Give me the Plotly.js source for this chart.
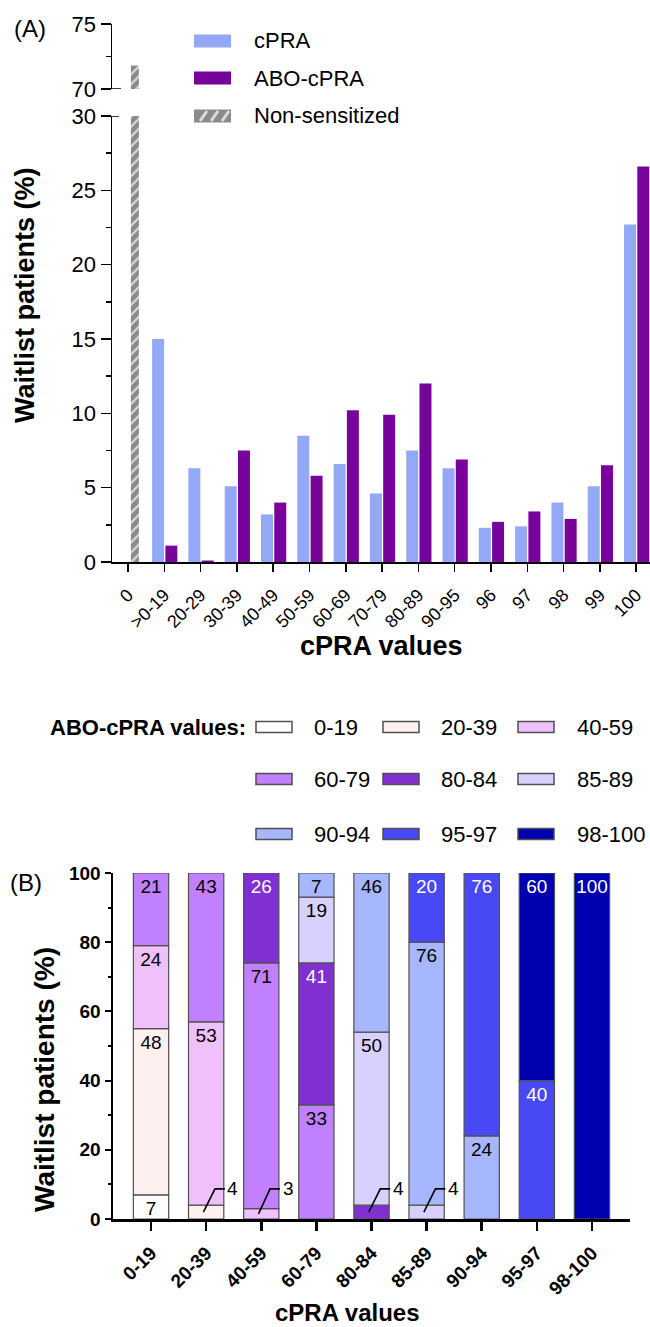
<!DOCTYPE html>
<html><head><meta charset="utf-8">
<script src="https://cdn.plot.ly/plotly-3.0.1.min.js"></script>
<style>html,body{margin:0;padding:0;background:#fff}#chart{width:650px;height:1327px}</style>
</head><body><div id="chart"></div>
<script>
// ---------- Panel A data ----------
const aCategories = ['0','>0-19','20-29','30-39','40-49','50-59','60-69','70-79','80-89','90-95','96','97','98','99','100'];
const cpraValues    = [null,15.0,6.3,5.1,3.2,8.5,6.6,4.6,7.5,6.3,2.3,2.4,4.0,5.1,22.7];
const aboCpraValues = [null,1.1,0.1,7.5,4.0,5.8,10.2,9.9,12.0,6.9,2.7,3.4,2.9,6.5,26.6];
const nonSensCategories = ['0'];
const nonSensValues = [71.8];
const aLowerTicks = [0,5,10,15,20,25,30];
const aUpperTicks = [70,75];
const aLegendNames = ['cPRA','ABO-cPRA','Non-sensitized'];

// ---------- Panel B data ----------
const bCategories = ['0-19','20-39','40-59','60-79','80-84','85-89','90-94','95-97','98-100'];
const aboRanges = ['0-19','20-39','40-59','60-79','80-84','85-89','90-94','95-97','98-100'];
const abo_0_19   = [7,null,null,null,null,null,null,null,null];
const abo_20_39  = [48,4,null,null,null,null,null,null,null];
const abo_40_59  = [24,53,3,null,null,null,null,null,null];
const abo_60_79  = [21,43,71,33,null,null,null,null,null];
const abo_80_84  = [null,null,26,41,4,null,null,null,null];
const abo_85_89  = [null,null,null,19,50,4,null,null,null];
const abo_90_94  = [null,null,null,7,46,76,24,null,null];
const abo_95_97  = [null,null,null,null,null,20,76,40,null];
const abo_98_100 = [null,null,null,null,null,null,null,60,100];
const bYTicks = [0,20,40,60,80,100];

// ---------- styles ----------
const W = 650, H = 1327;
const fx = x => x / W, fy = y => 1 - y / H;
const FONT = 'Liberation Sans, Arial, Helvetica, sans-serif';
const cpraColor = '#93A8F7', aboColor = '#78039A', grayColor = '#8A8A8A';
const bColors = ['#FFFFFF','#FDF0EF','#F0C0FC','#C080FF','#8030D0','#D8D0FF','#A6B6FF','#4848F5','#0000B0'];
const bTextColors = ['#000','#000','#000','#000','#FFF','#000','#000','#FFF','#FFF'];
const bSeries = [abo_0_19,abo_20_39,abo_40_59,abo_60_79,abo_80_84,abo_85_89,abo_90_94,abo_95_97,abo_98_100];

const traces = [];
// Panel A bars
traces.push({type:'bar', x:aCategories, y:cpraValues, name:aLegendNames[0], xaxis:'x', yaxis:'y',
  offset:-0.335, width:0.33, marker:{color:cpraColor, line:{width:0}}, showlegend:false, hoverinfo:'skip'});
traces.push({type:'bar', x:aCategories, y:aboCpraValues, name:aLegendNames[1], xaxis:'x', yaxis:'y',
  offset:0.03, width:0.33, marker:{color:aboColor, line:{width:0}}, showlegend:false, hoverinfo:'skip'});
['y','y2'].forEach(ya => traces.push({type:'bar', x:nonSensCategories, y:nonSensValues, name:aLegendNames[2],
  xaxis:'x', yaxis:ya, offset:0.08, width:0.22,
  marker:{color:grayColor, line:{width:0}, pattern:{shape:'/', fgcolor:'#DDDDDD', bgcolor:grayColor, size:7, solidity:0.3}},
  showlegend:false, hoverinfo:'skip'}));

// Panel B stacked bars (manual stacking via base)
const cum = bCategories.map(() => 0);
const leaderShapes = [], leaderAnns = [];
bSeries.forEach((vals, k) => {
  const base = cum.slice();
  traces.push({type:'bar', x:bCategories, y:vals, base:base, name:aboRanges[k], xaxis:'x3', yaxis:'y3',
    width:0.64, marker:{color:bColors[k], line:{color:'#505050', width:1.2}},
    text: vals.map(v => (v !== null && v >= 5) ? String(v) : ''),
    textposition:'inside', insidetextanchor:'end', textangle:0, constraintext:'none',
    textfont:{family:FONT, size:19, color:bTextColors[k]},
    showlegend:false, hoverinfo:'skip'});
  vals.forEach((v, i) => {
    if (v !== null && v < 5) {
      const mid = base[i] + v / 2;
      leaderShapes.push({type:'path', xref:'x3', yref:'y3',
        path:`M ${i-0.05},${mid} L ${i+0.16},8.7 L ${i+0.34},8.7`,
        line:{color:'#000', width:1.6}});
      leaderAnns.push({xref:'x3', yref:'y3', x:i+0.35, y:8.7, text:String(v), showarrow:false,
        xanchor:'left', yanchor:'middle', font:{family:FONT, size:19, color:'#000'}});
    }
    if (v !== null) cum[i] += v;
  });
});

// ---------- custom legends ----------
const shapes = [...leaderShapes];
const annotations = [...leaderAnns];
const aLegRows = [41, 78, 116];
const aLegColors = [cpraColor, aboColor, grayColor];
aLegRows.forEach((yc, k) => {
  shapes.push({type:'rect', xref:'paper', yref:'paper', x0:fx(194), x1:fx(231), y0:fy(yc+6.5), y1:fy(yc-6.5),
    fillcolor:aLegColors[k], line:{width:0}});
  annotations.push({xref:'paper', yref:'paper', x:fx(252), y:fy(yc), text:aLegendNames[k], showarrow:false,
    xanchor:'left', yanchor:'middle', font:{family:FONT, size:22, color:'#000'}});
});
[200, 211, 222].forEach(x0 => shapes.push({type:'line', xref:'paper', yref:'paper',
  x0:fx(x0), y0:fy(121), x1:fx(x0+7), y1:fy(111), line:{color:'#DDDDDD', width:3}}));

const bLegRows = [727, 779, 834];
const bSwX = [256, 383, 518], bTxX = [312, 439, 575];
aboRanges.forEach((name, k) => {
  const r = Math.floor(k / 3), c = k % 3, yc = bLegRows[r];
  shapes.push({type:'rect', xref:'paper', yref:'paper', x0:fx(bSwX[c]), x1:fx(bSwX[c]+36), y0:fy(yc+5.5), y1:fy(yc-5.5),
    fillcolor:bColors[k], line:{color:'#505050', width:1.5}});
  annotations.push({xref:'paper', yref:'paper', x:fx(bTxX[c]), y:fy(yc), text:name, showarrow:false,
    xanchor:'left', yanchor:'middle', font:{family:FONT, size:22, color:'#000'}});
});
annotations.push({xref:'paper', yref:'paper', x:fx(248), y:fy(727), text:'ABO-cPRA values:', showarrow:false,
  xanchor:'right', yanchor:'middle', font:{family:FONT, size:22, color:'#000', weight:'bold'}});

// panel labels and axis titles
annotations.push({xref:'paper', yref:'paper', x:fx(12), y:fy(29), text:'(A)', showarrow:false,
  xanchor:'left', yanchor:'middle', font:{family:FONT, size:24, color:'#000'}});
annotations.push({xref:'paper', yref:'paper', x:fx(8), y:fy(882), text:'(B)', showarrow:false,
  xanchor:'left', yanchor:'middle', font:{family:FONT, size:24, color:'#000'}});
annotations.push({xref:'paper', yref:'paper', x:fx(25), y:fy(295), text:'Waitlist patients (%)', textangle:-90,
  showarrow:false, xanchor:'center', yanchor:'middle', font:{family:FONT, size:27, color:'#000', weight:'bold'}});
annotations.push({xref:'paper', yref:'paper', x:fx(381), y:fy(646), text:'cPRA values', showarrow:false,
  xanchor:'center', yanchor:'middle', font:{family:FONT, size:27, color:'#000', weight:'bold'}});
annotations.push({xref:'paper', yref:'paper', x:fx(44), y:fy(1080), text:'Waitlist patients (%)', textangle:-90,
  showarrow:false, xanchor:'center', yanchor:'middle', font:{family:FONT, size:28, color:'#000', weight:'bold'}});
annotations.push({xref:'paper', yref:'paper', x:fx(347), y:fy(1312), text:'cPRA values', showarrow:false,
  xanchor:'center', yanchor:'middle', font:{family:FONT, size:24, color:'#000', weight:'bold'}});

// axis break marks
shapes.push({type:'line', xref:'paper', yref:'y2', x0:fx(112), x1:fx(121), y0:70, y1:70, line:{color:'#000', width:1.5}});
shapes.push({type:'line', xref:'paper', yref:'y', x0:fx(112), x1:fx(119), y0:30, y1:30, line:{color:'#000', width:1.5}});

const axBase = {showgrid:false, zeroline:false, showline:true, linecolor:'#000', tickcolor:'#000', fixedrange:true};
const layout = {
  width:W, height:H, margin:{l:0, r:0, t:0, b:0}, paper_bgcolor:'#fff', plot_bgcolor:'rgba(0,0,0,0)',
  barmode:'overlay', showlegend:false, font:{family:FONT, color:'#000'},
  uniformtext:{mode:'show', minsize:19},
  xaxis: Object.assign({}, axBase, {domain:[fx(112), 1], range:[-0.44, 14.38], type:'category', anchor:'y',
    linewidth:1.5, ticks:'outside', ticklen:8, tickwidth:1.5, tickangle:-45, tickfont:{size:18},
    ticklabelstandoff:6}),
  yaxis: Object.assign({}, axBase, {domain:[fy(562), fy(116)], range:[0,30], anchor:'x', tickmode:'array',
    tickvals:aLowerTicks, ticks:'outside', ticklen:10, tickwidth:1.5, linewidth:1.5, tickfont:{size:22},
    minor:{dtick:2.5, tick0:0, ticks:'outside', ticklen:5, tickwidth:1.5, tickcolor:'#000', showgrid:false}}),
  yaxis2: Object.assign({}, axBase, {domain:[fy(89), fy(24)], range:[70,75], anchor:'x', tickmode:'array',
    tickvals:aUpperTicks, ticks:'outside', ticklen:10, tickwidth:1.5, linewidth:1.5, tickfont:{size:22},
    minor:{dtick:2.5, tick0:70, ticks:'outside', ticklen:5, tickwidth:1.5, tickcolor:'#000', showgrid:false}}),
  xaxis3: Object.assign({}, axBase, {domain:[fx(113), fx(630)], range:[-0.69, 8.69], type:'category', anchor:'y3',
    linewidth:2.5, ticks:'outside', ticklen:9, tickwidth:2.5, tickangle:-45, tickfont:{size:19, weight:'bold'},
    ticklabelstandoff:4}),
  yaxis3: Object.assign({}, axBase, {domain:[fy(1219), fy(873)], range:[0,100], anchor:'x3', tickmode:'array',
    tickvals:bYTicks, ticks:'outside', ticklen:6, tickwidth:2, linewidth:2.5, tickfont:{size:19, weight:'bold'},
    minor:{dtick:10, tick0:0, ticks:'outside', ticklen:3, tickwidth:2, tickcolor:'#000', showgrid:false}}),
  shapes: shapes,
  annotations: annotations
};
Plotly.newPlot('chart', traces, layout, {displayModeBar:false, staticPlot:true});
</script></body></html>
